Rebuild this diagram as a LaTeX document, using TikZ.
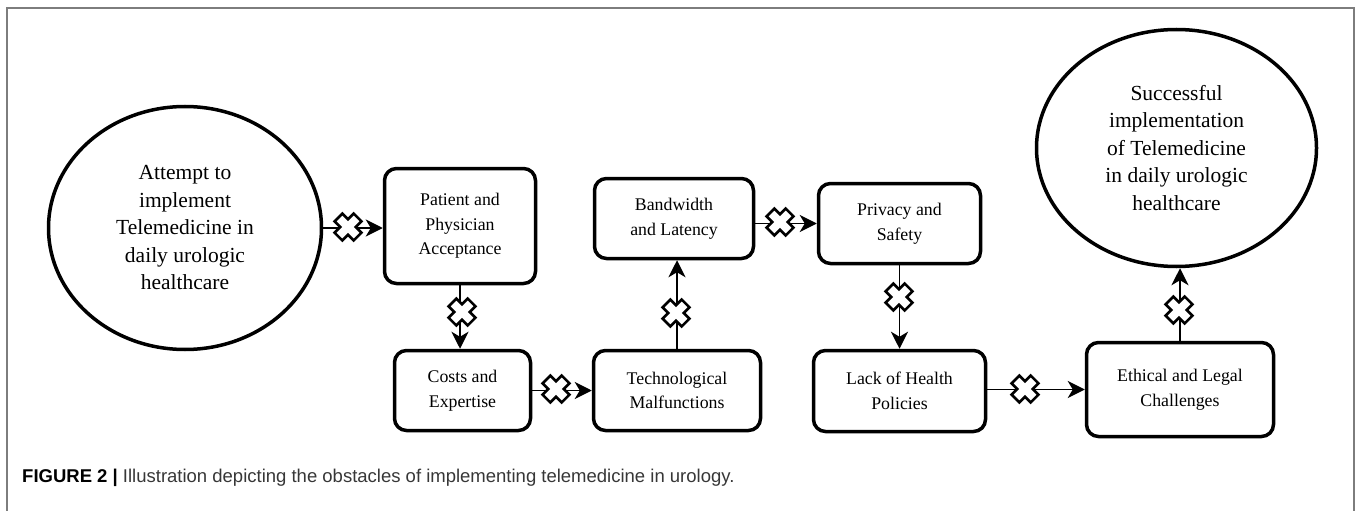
\documentclass[tikz,border=0pt]{standalone}
\usepackage{fontspec}
\setmainfont{Liberation Serif}
\newfontfamily\capfont{Liberation Sans}
\usepackage{tikz}
\usetikzlibrary{arrows.meta,shapes.geometric}
\definecolor{framegray}{RGB}{125,125,125}
\definecolor{capgray}{RGB}{55,55,55}

\begin{document}
\begin{tikzpicture}[x=1pt,y=-1pt,
	obstacle/.style={draw,line width=3.5pt,rounded corners=12pt,align=center,inner sep=0pt,font=\fontsize{17.8}{24.5}\selectfont},
	goal/.style={draw,ellipse,line width=3.5pt,align=center,inner sep=0pt,font=\fontsize{21.5}{27.5}\selectfont},
	link/.style={line width=1.8pt,-{Stealth[length=17pt,width=17pt,inset=5pt]}},
	barrier/.pic={\draw[line width=2.6pt,fill=white,rotate=45] (5.5,13.5) -- (-5.5,13.5) -- (-5.5,5.5) -- (-13.5,5.5) -- (-13.5,-5.5) -- (-5.5,-5.5) -- (-5.5,-13.5) -- (5.5,-13.5) -- (5.5,-5.5) -- (13.5,-5.5) -- (13.5,5.5) -- (5.5,5.5) -- cycle;}]
	\useasboundingbox (0,0) rectangle (1358,511);
	\draw [framegray,line width=2pt] (7,511) -- (7,8) -- (1354,8) -- (1354,511);

	\node [goal,minimum width=273pt,minimum height=243pt] (start) at (185,228) {Attempt to\\implement\\Telemedicine in\\daily urologic\\healthcare};
	\node [goal,minimum width=280pt,minimum height=237pt] (success) at (1176.5,148) {Successful\\implementation\\of Telemedicine\\in daily urologic\\healthcare};

	\node [obstacle,minimum width=151pt,minimum height=115pt] (accept) at (460,226) {Patient and\\Physician\\Acceptance};
	\node [obstacle,minimum width=136pt,minimum height=80pt] (costs) at (462.5,390.5) {Costs and\\Expertise};
	\node [obstacle,minimum width=167pt,minimum height=80pt] (tech) at (677,390.5) {Technological\\Malfunctions};
	\node [obstacle,minimum width=159pt,minimum height=80pt] (band) at (674,218.5) {Bandwidth\\and Latency};
	\node [obstacle,minimum width=162pt,minimum height=80pt] (privacy) at (899.5,223.5) {Privacy and\\Safety};
	\node [obstacle,minimum width=172pt,minimum height=81pt] (policy) at (899.5,391) {Lack of Health\\Policies};
	\node [obstacle,minimum width=187pt,minimum height=94pt] (ethics) at (1180,389.5) {Ethical and Legal\\Challenges};

	\draw [link] (start.east) -- (start.east -| accept.west);
	\draw [link] (accept.south) -- (accept.south |- costs.north);
	\draw [link] (costs.east) -- (costs.east -| tech.west);
	\draw [link] (tech.north) -- (tech.north |- band.south);
	\draw [link] (privacy.west -| band.east) -- (privacy.west);
	\draw [link] (privacy.south) -- (privacy.south |- policy.north);
	\draw [link] (ethics.west -| policy.east) -- (ethics.west);
	\draw [link] (ethics.north) -- (ethics.north |- success.south);

	\pic at (348,227) {barrier};
	\pic at (462,312) {barrier};
	\pic at (556,389) {barrier};
	\pic at (676,313) {barrier};
	\pic at (780,222) {barrier};
	\pic at (899,297) {barrier};
	\pic at (1025,389) {barrier};
	\pic at (1179,310) {barrier};

	\node [anchor=base west,inner sep=0pt,font=\capfont\fontsize{18.5}{22}\selectfont] (caption) at (22,482) {\textbf{FIGURE 2 |} \textcolor{capgray}{Illustration depicting the obstacles of implementing telemedicine in urology.}};
\end{tikzpicture}
\end{document}
